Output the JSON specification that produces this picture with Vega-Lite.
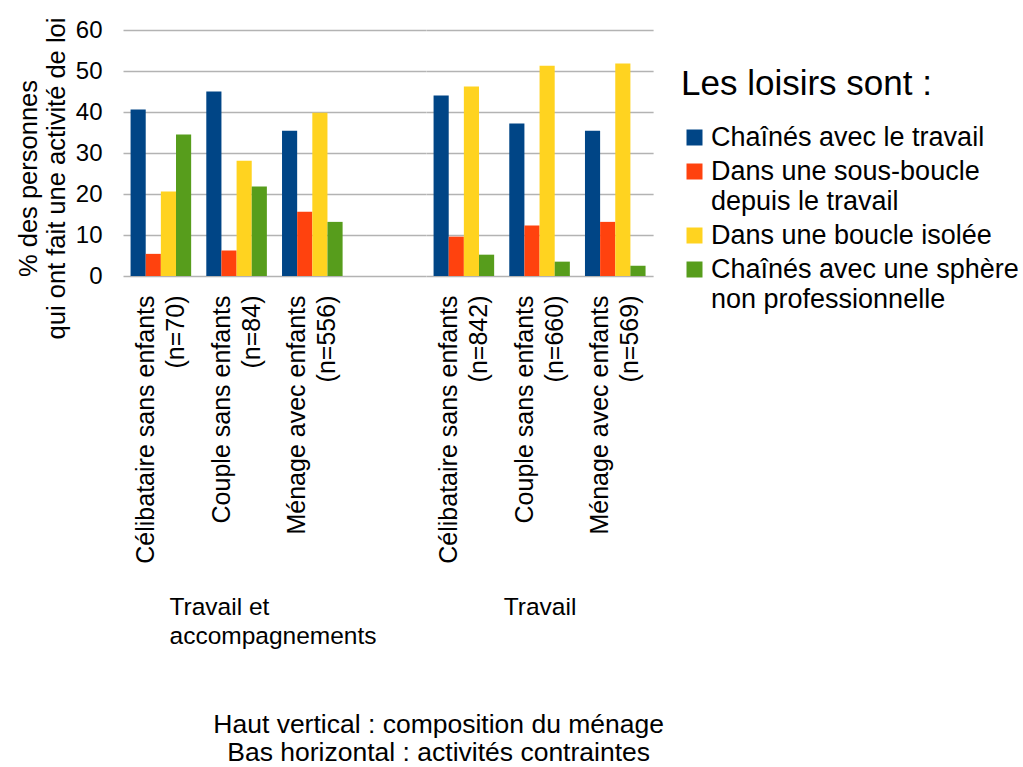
{
  "$schema": "https://vega.github.io/schema/vega-lite/v6.json",
  "background": "white",
  "padding": {"left": 16, "top": 17, "right": 0, "bottom": 0},
  "config": {
    "font": "Liberation Sans",
    "view": {"stroke": null},
    "axis": {"labelColor": "black", "titleColor": "black", "titleFontWeight": "normal", "gridColor": "#b3b3b3", "gridWidth": 1.5},
    "style": {"guide-label": {"lineHeight": 30.5}}
  },
  "data": {
    "values": [
      {"activite": "Travail et accompagnements", "menage": "Célibataire sans enfants\n(n=70)", "loisir": "Chaînés avec le travail", "pct": 40.6},
      {"activite": "Travail et accompagnements", "menage": "Célibataire sans enfants\n(n=70)", "loisir": "Dans une sous-boucle\ndepuis le travail", "pct": 5.4},
      {"activite": "Travail et accompagnements", "menage": "Célibataire sans enfants\n(n=70)", "loisir": "Dans une boucle isolée", "pct": 20.6},
      {"activite": "Travail et accompagnements", "menage": "Célibataire sans enfants\n(n=70)", "loisir": "Chaînés avec une sphère\nnon professionnelle", "pct": 34.5},
      {"activite": "Travail et accompagnements", "menage": "Couple sans enfants\n(n=84)", "loisir": "Chaînés avec le travail", "pct": 45.0},
      {"activite": "Travail et accompagnements", "menage": "Couple sans enfants\n(n=84)", "loisir": "Dans une sous-boucle\ndepuis le travail", "pct": 6.2},
      {"activite": "Travail et accompagnements", "menage": "Couple sans enfants\n(n=84)", "loisir": "Dans une boucle isolée", "pct": 28.1},
      {"activite": "Travail et accompagnements", "menage": "Couple sans enfants\n(n=84)", "loisir": "Chaînés avec une sphère\nnon professionnelle", "pct": 21.8},
      {"activite": "Travail et accompagnements", "menage": "Ménage avec enfants\n(n=556)", "loisir": "Chaînés avec le travail", "pct": 35.4},
      {"activite": "Travail et accompagnements", "menage": "Ménage avec enfants\n(n=556)", "loisir": "Dans une sous-boucle\ndepuis le travail", "pct": 15.7},
      {"activite": "Travail et accompagnements", "menage": "Ménage avec enfants\n(n=556)", "loisir": "Dans une boucle isolée", "pct": 39.8},
      {"activite": "Travail et accompagnements", "menage": "Ménage avec enfants\n(n=556)", "loisir": "Chaînés avec une sphère\nnon professionnelle", "pct": 13.2},
      {"activite": "Travail", "menage": "Célibataire sans enfants\n(n=842)", "loisir": "Chaînés avec le travail", "pct": 44.0},
      {"activite": "Travail", "menage": "Célibataire sans enfants\n(n=842)", "loisir": "Dans une sous-boucle\ndepuis le travail", "pct": 9.6},
      {"activite": "Travail", "menage": "Célibataire sans enfants\n(n=842)", "loisir": "Dans une boucle isolée", "pct": 46.2},
      {"activite": "Travail", "menage": "Célibataire sans enfants\n(n=842)", "loisir": "Chaînés avec une sphère\nnon professionnelle", "pct": 5.2},
      {"activite": "Travail", "menage": "Couple sans enfants\n(n=660)", "loisir": "Chaînés avec le travail", "pct": 37.2},
      {"activite": "Travail", "menage": "Couple sans enfants\n(n=660)", "loisir": "Dans une sous-boucle\ndepuis le travail", "pct": 12.3},
      {"activite": "Travail", "menage": "Couple sans enfants\n(n=660)", "loisir": "Dans une boucle isolée", "pct": 51.3},
      {"activite": "Travail", "menage": "Couple sans enfants\n(n=660)", "loisir": "Chaînés avec une sphère\nnon professionnelle", "pct": 3.5},
      {"activite": "Travail", "menage": "Ménage avec enfants\n(n=569)", "loisir": "Chaînés avec le travail", "pct": 35.4},
      {"activite": "Travail", "menage": "Ménage avec enfants\n(n=569)", "loisir": "Dans une sous-boucle\ndepuis le travail", "pct": 13.2},
      {"activite": "Travail", "menage": "Ménage avec enfants\n(n=569)", "loisir": "Dans une boucle isolée", "pct": 51.8},
      {"activite": "Travail", "menage": "Ménage avec enfants\n(n=569)", "loisir": "Chaînés avec une sphère\nnon professionnelle", "pct": 2.5}
    ]
  },
  "title": {
    "text": ["Haut vertical : composition du ménage", "Bas horizontal : activités contraintes"],
    "orient": "bottom",
    "anchor": "middle",
    "fontSize": 26.5,
    "fontWeight": "normal",
    "color": "black",
    "lineHeight": 28.5,
    "offset": 64,
    "dx": -79
  },
  "spacing": 0,
  "resolve": {"scale": {"color": "shared"}, "legend": {"color": "shared"}},
  "hconcat": [
    {
      "width": 302.9,
      "height": 246,
      "transform": [{"filter": "datum.activite == 'Travail et accompagnements'"}],
      "mark": {"type": "bar"},
      "encoding": {
        "x": {
          "field": "menage", "type": "nominal",
          "scale": {"domain": ["Célibataire sans enfants\n(n=70)", "Couple sans enfants\n(n=84)", "Ménage avec enfants\n(n=556)", " "], "paddingInner": 0.2, "paddingOuter": 0.1},
          "axis": {
            "labelAngle": -90, "labelFontSize": 25, "labelLineHeight": 30, "labelPadding": 19, "labelLimit": 0, "labelOffset": -15,
            "labelExpr": "split(datum.label, '\\n')", "ticks": false, "domain": false, "grid": false,
            "title": ["Travail et", "accompagnements"], "titleFontSize": 24.5, "titleLineHeight": 29,
            "titlePadding": 119, "titleAlign": "left", "titleX": 46
          }
        },
        "xOffset": {
          "field": "loisir", "type": "nominal",
          "scale": {"domain": ["Chaînés avec le travail", "Dans une sous-boucle\ndepuis le travail", "Dans une boucle isolée", "Chaînés avec une sphère\nnon professionnelle"], "paddingInner": 0, "paddingOuter": 0}
        },
        "y": {
          "field": "pct", "type": "quantitative",
          "scale": {"domain": [0, 60], "nice": false},
          "axis": {
            "values": [0, 10, 20, 30, 40, 50, 60], "labelFontSize": 24, "labelPadding": 21, "ticks": false, "domain": false, "grid": true,
            "title": ["% des personnes", "qui ont fait une activité de loi"], "titleFontSize": 25.5, "titleLineHeight": 28,
            "titlePadding": 6, "titleY": 148
          }
        },
        "color": {
          "field": "loisir", "type": "nominal",
          "scale": {"domain": ["Chaînés avec le travail", "Dans une sous-boucle\ndepuis le travail", "Dans une boucle isolée", "Chaînés avec une sphère\nnon professionnelle"], "range": ["#004586", "#ff420e", "#ffd320", "#579d1c"]},
          "legend": {
            "title": "Les loisirs sont :", "titleFontSize": 35, "titleFontWeight": "normal", "titleColor": "black", "titlePadding": 22, "titleLimit": 0,
            "labelFontSize": 27, "labelColor": "black", "labelLimit": 0,
            "labelExpr": "split(datum.label, '\\n')", "symbolType": "square", "symbolSize": 256, "symbolStrokeWidth": 0, "symbolOpacity": 1,
            "labelOffset": 3, "rowPadding": 6, "orient": "none", "legendX": 558, "legendY": 37
          }
        }
      }
    },
    {
      "width": 227.1,
      "height": 246,
      "transform": [{"filter": "datum.activite == 'Travail'"}],
      "mark": {"type": "bar"},
      "encoding": {
        "x": {
          "field": "menage", "type": "nominal",
          "scale": {"domain": ["Célibataire sans enfants\n(n=842)", "Couple sans enfants\n(n=660)", "Ménage avec enfants\n(n=569)"], "paddingInner": 0.2, "paddingOuter": 0.1},
          "axis": {
            "labelAngle": -90, "labelFontSize": 25, "labelLineHeight": 30, "labelPadding": 19, "labelLimit": 0, "labelOffset": -15,
            "labelExpr": "split(datum.label, '\\n')", "ticks": false, "domain": false, "grid": false,
            "title": "Travail", "titleFontSize": 24.5, "titleLineHeight": 29, "titlePadding": 119
          }
        },
        "xOffset": {
          "field": "loisir", "type": "nominal",
          "scale": {"domain": ["Chaînés avec le travail", "Dans une sous-boucle\ndepuis le travail", "Dans une boucle isolée", "Chaînés avec une sphère\nnon professionnelle"], "paddingInner": 0, "paddingOuter": 0}
        },
        "y": {
          "field": "pct", "type": "quantitative",
          "scale": {"domain": [0, 60], "nice": false},
          "axis": {"values": [0, 10, 20, 30, 40, 50, 60], "labels": false, "ticks": false, "domain": false, "grid": true, "title": null}
        },
        "color": {
          "field": "loisir", "type": "nominal",
          "scale": {"domain": ["Chaînés avec le travail", "Dans une sous-boucle\ndepuis le travail", "Dans une boucle isolée", "Chaînés avec une sphère\nnon professionnelle"], "range": ["#004586", "#ff420e", "#ffd320", "#579d1c"]}
        }
      }
    }
  ]
}
